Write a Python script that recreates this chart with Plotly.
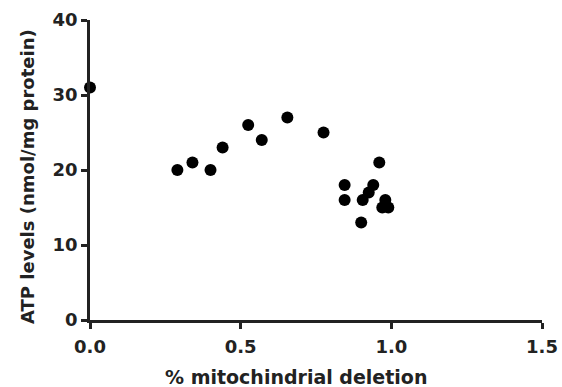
import plotly.graph_objects as go

deletion = [0.0, 0.29, 0.34, 0.40, 0.44, 0.525, 0.57, 0.655, 0.775, 0.845, 0.845,
            0.96, 0.94, 0.925, 0.905, 0.90, 0.98, 0.97, 0.99]
atp = [31, 20, 21, 20, 23, 26, 24, 27, 25, 18, 16,
       21, 18, 17, 16, 13, 16, 15, 15]

x_ticks = [0.0, 0.5, 1.0, 1.5]
x_tick_labels = ["0.0", "0.5", "1.0", "1.5"]
y_ticks = [0, 10, 20, 30, 40]

x_title = "% mitochindrial deletion"
y_title = "ATP levels (nmol/mg protein)"

FAM = "DejaVu Sans, Verdana, sans-serif"
COL = "#222"

fig = go.Figure()
fig.add_trace(go.Scatter(
    x=deletion, y=atp, mode="markers",
    marker=dict(color="black", size=12),
    cliponaxis=False, showlegend=False,
))

fig.update_layout(
    width=562, height=387,
    margin=dict(l=90, r=20, t=20, b=67),
    plot_bgcolor="white", paper_bgcolor="white",
    font=dict(family=FAM, size=16, color=COL),
    annotations=[
        dict(text=x_title, xref="paper", yref="paper", x=0.456, y=-0.19,
             xanchor="center", yanchor="middle", showarrow=False,
             font=dict(size=19, family=FAM, color=COL, weight="bold")),
        dict(text=y_title, xref="paper", yref="paper", x=-0.137, y=0.477,
             xanchor="center", yanchor="middle", showarrow=False, textangle=-90,
             font=dict(size=18, family=FAM, color=COL, weight="bold")),
    ],
)
fig.update_xaxes(
    range=[0, 1.5], tickvals=x_ticks, ticktext=x_tick_labels,
    showline=True, linecolor=COL, linewidth=2.5,
    ticks="outside", ticklen=6, tickwidth=2.5, tickcolor=COL,
    showgrid=False, zeroline=False, automargin=False, ticklabelstandoff=3,
    tickfont=dict(size=18, family=FAM, color=COL, weight="bold"),
)
fig.update_yaxes(
    range=[0, 40], tickvals=y_ticks,
    showline=True, linecolor=COL, linewidth=2.5,
    ticks="outside", ticklen=6, tickwidth=2.5, tickcolor=COL,
    showgrid=False, zeroline=False, automargin=False,
    tickfont=dict(size=18, family=FAM, color=COL, weight="bold"),
)

fig.write_html(
    "out.html",
    config={"displayModeBar": False},
    post_script="document.body.style.margin='0';document.body.style.overflow='hidden';",
)
